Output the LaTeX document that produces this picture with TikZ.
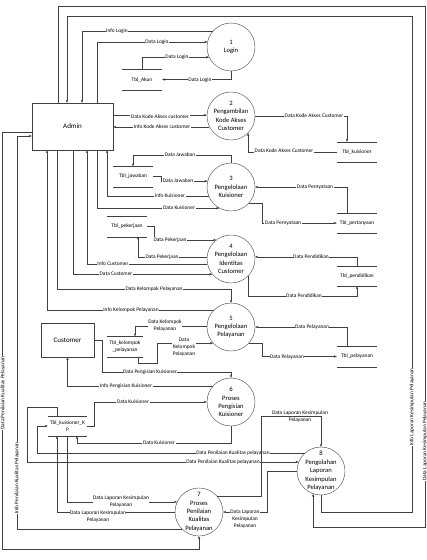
\documentclass[tikz,border=0pt]{standalone}
\usepackage{fontspec}
\setmainfont{Carlito}
\usetikzlibrary{arrows.meta}

\begin{document}
\begin{tikzpicture}[x=1pt, y=-1pt,
        every node/.style={font=\fontsize{5.4}{7}\selectfont},
        proc/.style={circle, draw=black!75, minimum size=48pt, inner sep=0pt},
        ptext/.style={align=center, font=\fontsize{6.6}{8.4}\selectfont},
        entity/.style={rectangle, draw=black!75, inner sep=0pt, font=\fontsize{7}{8}\selectfont},
        store/.style={minimum width=40pt, minimum height=20pt, inner sep=0pt, align=center},
        flow/.style={draw=black!75, -{Stealth[length=3pt, width=2.4pt]}},
        line/.style={draw=black!75},
        lbl/.style={fill=white, inner sep=0.6pt, align=center}
    ]
    \useasboundingbox (0,0) rectangle (427,560);

    % entities
    \node[entity, minimum width=81pt, minimum height=47pt] (admin) at (72.5,126.5) {Admin};
    \node[entity, minimum width=53pt, minimum height=34pt] (cust) at (67.5,340) {Customer};

    % processes
    \node[proc, label={[ptext]center:{1\\Login}}] (p1) at (231,47) {};
    \node[proc, label={[ptext]center:{2\\Pengambilan\\Kode Akses\\Customer}}] (p2) at (231,116) {};
    \node[proc, label={[ptext]center:{3\\Pengelolaan\\Kuisioner}}] (p3) at (231,187) {};
    \node[proc, label={[ptext]center:{4\\Pengelolaan\\Identitas\\Customer}}] (p4) at (231,259) {};
    \node[proc, label={[ptext]center:{5\\Pengelolaan\\Pelayanan}}] (p5) at (231,327) {};
    \node[proc, label={[ptext]center:{6\\Proses\\Pengisian\\Kuisioner}}] (p6) at (231,402) {};
    \node[proc, label={[ptext]center:{7\\Proses\\Penilaian\\Kualitas\\Pelayanan}}] (p7) at (199,512) {};
    \node[proc, label={[ptext]center:{8\\Pengolahan\\Laporan\\Kesimpulan\\Pelayanan}}] (p8) at (321,471) {};

    % data stores
    \node[store] (akun) at (142,79.5) {Tbl\_Akun};
    \node[store] (kuis) at (357,152) {Tbl\_kuisioner};
    \node[store] (jaw) at (133,176.5) {Tbl\_jawaban};
    \node[store] (pert) at (357,223) {Tbl\_pertanyaan};
    \node[store] (pek) at (127,226.5) {Tbl\_pekerjaan};
    \node[store] (pend) at (357,276) {Tbl\_pendidikan};
    \node[store, minimum width=36pt] (kel) at (125,346.5) {Tbl\_kelompok\\\_pelayanan};
    \node[store] (pel) at (357,356.5) {Tbl\_pelayanan};
    \node[store, minimum width=39pt] (kp) at (67.5,426) {Tbl\_kuisioner\_K\\P};
    \foreach \s in {akun, kuis, jaw, pert, pek, pend, kel, pel, kp}
        \draw[line] (\s.north west) -- (\s.north east) (\s.south west) -- (\s.south east);

    % outer loops
    \draw[flow] (p8.south) |- (412,512) |- (67,16) -- (admin.north -| 67,0);
    \node[lbl, rotate=90] at (412,407) {Info  Laporan Kesimpulan Pelayanan};
    \draw[flow] (admin.north -| 58,0) |- (425,6) |- (p8.251 |- 0,527) -- (p8.251);
    \node[lbl, rotate=90] at (425,441) {Data  Laporan Kesimpulan Pelayanan};
    \draw[flow] (p7.225) -| (17,136) -- (admin.west |- 0,136);
    \node[lbl, rotate=90] at (17,478) {Info Penilaian Kualitas Pelayanan};
    \draw[flow] (admin.west |- 0,132) -| (2,549) -| (p7.south);
    \node[lbl, rotate=90] at (3,393) {Data Penilaian Kualitas Pelayanan};

    % login
    \draw[flow] (p1.138) -| (admin.north -| 82,0);
    \node[lbl] at (117,31) {Info Login};
    \draw[flow] (admin.north -| 97,0) |- (p1.168);
    \node[lbl] at (157,42) {Data Login};
    \draw[flow] (akun.north) |- (p1.205);
    \node[lbl] at (177,57) {Data Login};
    \draw[flow] (p1.south) |- (akun.east);
    \node[lbl] at (200,80) {Data Login};

    % kode akses
    \draw[flow] (admin.east |- p2.178) -- (p2.178);
    \node[lbl] at (160,117) {Data Kode Akses customer};
    \draw[flow] (p2.207) -- (admin.east |- p2.207);
    \node[lbl] at (162,127) {Info Kode Akses customer};
    \draw[flow] (p2.east) -| (kuis.north -| 347,0);
    \node[lbl] at (314,116) {Data Kode Akses Customer};
    \draw[flow] (kuis.west) -| (p2.315);
    \node[lbl] at (284,151) {Data Kode Akses Customer};

    % kuisioner
    \draw[flow] (p3.north) -- (p3.north |- 0,155) -| (jaw.north);
    \node[lbl] at (180,155) {Data Jawaban};
    \draw[flow] (jaw.east) -- ++(8,0) |- (p3.166);
    \node[lbl] at (178,181) {Data Jawaban};
    \draw[flow] (p3.202) -| (admin.south -| 107,0);
    \node[lbl] at (170,196) {Info Kuisioner};
    \draw[flow] (admin.south -| 97,0) |- (p3.241);
    \node[lbl] at (179,208) {Data Kuisioner};
    \draw[flow] (pert.north -| 347,0) |- (p3.east);
    \node[lbl] at (315,187) {Data Pernyataan};
    \draw[flow] (p3.318) -- (p3.318 -| 262,0) |- (pert.west);
    \node[lbl] at (283,223) {Data Pernyataan};

    % identitas customer
    \draw[flow] (pek.east) -- ++(7,0) |- (p4.128);
    \node[lbl] at (170,240) {Data Pekerjaan};
    \draw[flow] (p4.175) -| (pek.south -| 138,0);
    \node[lbl] at (162,257) {Data Pekerjaan};
    \draw[flow] (p4.192) -| (admin.south -| 87,0);
    \node[lbl] at (113,264) {Info Customer};
    \draw[flow] (admin.south -| 73,0) |- (p4.219);
    \node[lbl] at (116,274) {Data Customer};
    \draw[flow] (pend.north) |- (p4.5);
    \node[lbl] at (311,257) {Data Pendidikan};
    \draw[flow] (p4.315) |- (357,296) -- (pend.south);
    \node[lbl] at (304,296) {Data Pendidikan};

    % pelayanan
    \draw[flow] (admin.south -| 57,0) |- (p5.north |- 0,289) -- (p5.north);
    \node[lbl] at (154,289) {Data Kelompok Pelayanan};
    \draw[flow] (p5.135) -| (admin.south -| 47,0);
    \node[lbl] at (131,310) {Info Kelompok Pelayanan};
    \draw[flow] (p5.178) -| (kel.north -| 135,0);
    \node[lbl] at (165,326) {Data Kelompok\\Pelayanan};
    \draw[flow] (kel.south -| 138,0) |- (157,363) |- (p5.222);
    \node[lbl] at (184,347) {Data\\Kelompok\\Pelayanan};
    \draw[flow] (pel.north -| 347,0) |- (p5.east);
    \node[lbl] at (312,327) {Data Pelayanan};
    \draw[flow] (p5.318) -- (p5.318 -| 262,0) |- (pel.west);
    \node[lbl] at (287,357) {Data Pelayanan};

    % pengisian kuisioner
    \draw[flow] (cust.east) -- ++(8,0) |- (p6.north |- 0,372) -- (p6.north);
    \node[lbl] at (150,372) {Data Pengisian Kuisioner};
    \draw[flow] (p6.138) -| (cust.south);
    \node[lbl] at (126,386) {Info Pengisian Kuisioner};
    \draw[flow] (kp.east) -- ++(7,0) |- (p6.west);
    \node[lbl] at (133,402) {Data Kuisioner};
    \draw[flow] (p6.south) |- (77,443) -- (kp.south -| 77,0);
    \node[lbl] at (159,443) {Data Kuisioner};

    % penilaian dan laporan
    \draw[flow] (kp.north -| 57,0) |- (27,407) |- (p8.158);
    \node[lbl] at (223,462) {Data Penilaian Kualitas pelayanan};
    \draw[flow] (p8.131) -| (37,426) -- (kp.west);
    \node[lbl] at (233,453) {Data Penilaian Kualitas pelayanan};
    \draw[flow] (p7.42) -- (p7.42 -| 261,0) |- (p8.north |- 0,416) -- (p8.north);
    \node[lbl, fill=none] at (300,416.5) {Data Laporan Kesimpulan\\Pelayanan};
    \draw[flow] (p8.west) -- (p8.west -| 267,0) |- (p7.east);
    \node[lbl] at (245,519) {Data Laporan\\Kesimpulan\\Pelayanan};
    \draw[flow] (kp.south -| 67,0) |- (p7.155);
    \node[lbl] at (121,502) {Data Laporan Kesimpulan\\Pelayanan};
    \draw[flow] (p7.west) -| (kp.south -| 57,0);
    \node[lbl] at (98,517) {Data Laporan Kesimpulan\\Pelayanan};
\end{tikzpicture}
\end{document}
